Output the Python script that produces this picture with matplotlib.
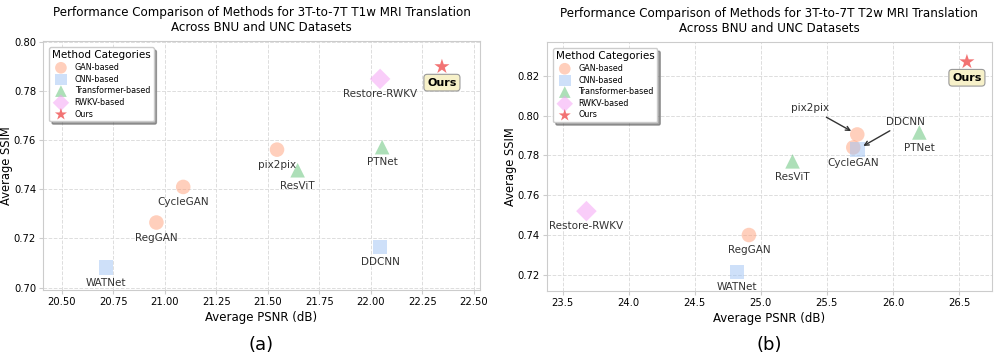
import matplotlib
matplotlib.use("Agg")
import matplotlib.pyplot as plt

plt.rcParams['font.family'] = ['DejaVu Sans']

# ---------------- data ----------------
categories = ["GAN-based", "CNN-based", "Transformer-based", "RWKV-based", "Ours"]

# T1w (a)
t1_methods = ["CycleGAN", "RegGAN", "pix2pix", "WATNet", "DDCNN", "ResViT", "PTNet", "Restore-RWKV", "Ours"]
t1_cats    = ["GAN-based", "GAN-based", "GAN-based", "CNN-based", "CNN-based",
              "Transformer-based", "Transformer-based", "RWKV-based", "Ours"]
t1_psnr    = [21.09, 20.96, 21.545, 20.715, 22.045, 21.645, 22.055, 22.045, 22.345]
t1_ssim    = [0.7410, 0.7265, 0.7562, 0.7082, 0.7165, 0.7478, 0.7572, 0.7850, 0.7900]

# T2w (b)
t2_methods = ["CycleGAN", "RegGAN", "pix2pix", "WATNet", "DDCNN", "ResViT", "PTNet", "Restore-RWKV", "Ours"]
t2_cats    = ["GAN-based", "GAN-based", "GAN-based", "CNN-based", "CNN-based",
              "Transformer-based", "Transformer-based", "RWKV-based", "Ours"]
t2_psnr    = [25.70, 24.91, 25.73, 24.82, 25.73, 25.24, 26.20, 23.68, 26.56]
t2_ssim    = [0.7840, 0.7400, 0.7905, 0.7215, 0.7830, 0.7770, 0.7915, 0.7520, 0.8270]

titles = ["Performance Comparison of Methods for 3T-to-7T T1w MRI Translation\nAcross BNU and UNC Datasets",
          "Performance Comparison of Methods for 3T-to-7T T2w MRI Translation\nAcross BNU and UNC Datasets"]
panel_tags = ["(a)", "(b)"]

# ---------------- styles ----------------
style = {
    "GAN-based":         dict(marker="o", color="#FFA07A", s=110, alpha=0.5),
    "CNN-based":         dict(marker="s", color="#9EC3F5", s=110, alpha=0.5),
    "Transformer-based": dict(marker="^", color="#5CC072", s=110, alpha=0.5),
    "RWKV-based":        dict(marker="D", color="#F59DF5", s=110, alpha=0.5),
    "Ours":              dict(marker="*", color="#EE4444", s=130, alpha=0.75),
}

fig = plt.figure(figsize=(9.96, 3.6), dpi=100)
ax1 = fig.add_axes([0.0432, 0.1944, 0.4388, 0.692])
ax2 = fig.add_axes([0.549, 0.1917, 0.447, 0.692])

def draw(ax, methods, cats, psnr, ssim, title, ylab_x, special=None):
    for c in categories:
        xs = [p for p, k in zip(psnr, cats) if k == c]
        ys = [q for q, k in zip(ssim, cats) if k == c]
        st = style[c]
        ax.scatter(xs, ys, marker=st["marker"], c=st["color"], s=st["s"], alpha=st["alpha"],
                   edgecolors="none", label=c, zorder=3)
    special = special or {}
    for m, x, y in zip(methods, psnr, ssim):
        if m in special:
            dx, dy = special[m]
            ax.annotate(m, (x, y), xytext=(dx, dy), textcoords="offset points",
                        ha="center", va="center", fontsize=7.5, color="#333333",
                        arrowprops=dict(arrowstyle="->", color="#333333", lw=1.0,
                                        shrinkA=2, shrinkB=5), zorder=4)
        elif m == "Ours":
            ax.annotate(m, (x, y), xytext=(0, -11.5), textcoords="offset points",
                        ha="center", va="center", fontsize=8, fontweight="bold", color="black",
                        bbox=dict(boxstyle="round,pad=0.3", fc="#F7F1C9", ec="#999999", lw=0.8),
                        zorder=4)
        else:
            ax.annotate(m, (x, y), xytext=(0, -11), textcoords="offset points",
                        ha="center", va="center", fontsize=7.5, color="#333333", zorder=4)
    ax.grid(True, linestyle="--", color="#dddddd", linewidth=0.7, zorder=0)
    ax.set_axisbelow(True)
    for sp in ax.spines.values():
        sp.set_color("#cccccc")
    ax.tick_params(axis="both", labelsize=7.2, color="#cccccc", length=3, pad=2)
    ax.set_xlabel("Average PSNR (dB)", fontsize=8.5, labelpad=3)
    ax.set_ylabel("Average SSIM", fontsize=8.3)
    ax.yaxis.set_label_coords(ylab_x, 0.5)
    ax.set_title(title, fontsize=8.6, pad=7)
    leg = ax.legend(title="Method Categories", loc="upper left", fontsize=5.8,
                    title_fontsize=7.5, shadow=True, frameon=True, framealpha=1,
                    borderpad=0.35, labelspacing=0.33, handletextpad=0.7, markerscale=0.8,
                    bbox_to_anchor=(0.005, 0.99))
    leg.get_frame().set_edgecolor("#cccccc")

draw(ax1, t1_methods, t1_cats, t1_psnr, t1_ssim, titles[0], -0.068)
ax1.set_xlim(20.41, 22.53)
ax1.set_ylim(0.699, 0.8005)
ax1.set_xticks([20.50, 20.75, 21.00, 21.25, 21.50, 21.75, 22.00, 22.25, 22.50])
ax1.set_xticklabels(["20.50", "20.75", "21.00", "21.25", "21.50", "21.75", "22.00", "22.25", "22.50"])
ax1.set_yticks([0.70, 0.72, 0.74, 0.76, 0.78, 0.80])
ax1.set_yticklabels(["0.70", "0.72", "0.74", "0.76", "0.78", "0.80"])

draw(ax2, t2_methods, t2_cats, t2_psnr, t2_ssim, titles[1], -0.068,
     special={"pix2pix": (-34, 19), "DDCNN": (35, 20)})
ax2.set_xlim(23.38, 26.75)
ax2.set_ylim(0.7119, 0.837)
ax2.set_xticks([23.5, 24.0, 24.5, 25.0, 25.5, 26.0, 26.5])
ax2.set_xticklabels(["23.5", "24.0", "24.5", "25.0", "25.5", "26.0", "26.5"])
ax2.set_yticks([0.72, 0.74, 0.76, 0.78, 0.80, 0.82])
ax2.set_yticklabels(["0.72", "0.74", "0.76", "0.78", "0.80", "0.82"])

fig.text(0.262, 0.042, panel_tags[0], ha="center", va="center", fontsize=13)
fig.text(0.772, 0.042, panel_tags[1], ha="center", va="center", fontsize=13)

fig.savefig("out.png", dpi=100)
